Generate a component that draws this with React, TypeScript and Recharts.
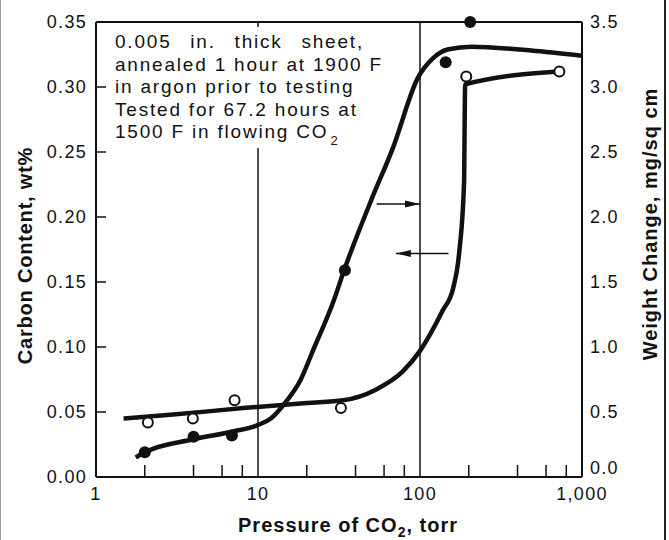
import { ComposedChart, Line, XAxis, YAxis, ReferenceLine, Label } from "recharts"

const FONT = '"Liberation Sans", Arial, Helvetica, sans-serif'
const INK = "#111"

const xMajor = [1, 10, 100, 1000]
const xMinor = [2, 4, 6, 8, 20, 40, 60, 80, 200, 400, 600, 800]
const xTicks = [...xMajor, ...xMinor].sort((a, b) => a - b)
const carbonTicks = [0, 0.05, 0.1, 0.15, 0.2, 0.25, 0.3, 0.35]
const weightTicks = [0, 0.5, 1, 1.5, 2, 2.5, 3, 3.5]

// carbon content curve, wt% (left axis)
const carbonCurve = [
    { x: 1.48, c: 0.045 },
    { x: 3, c: 0.048 },
    { x: 8.1, c: 0.053 },
    { x: 20, c: 0.057 },
    { x: 33.5, c: 0.059 },
    { x: 53, c: 0.067 },
    { x: 78, c: 0.081 },
    { x: 100, c: 0.097 },
    { x: 138, c: 0.128 },
    { x: 160, c: 0.145 },
    { x: 175, c: 0.174 },
    { x: 187, c: 0.226 },
    { x: 190, c: 0.302 },
    { x: 725, c: 0.312 },
]

// measured carbon, open circles
const carbonPoints = [
    { x: 2.09, c: 0.042 },
    { x: 3.96, c: 0.045 },
    { x: 7.17, c: 0.059 },
    { x: 32.5, c: 0.053 },
    { x: 193, c: 0.308 },
    { x: 725, c: 0.312 },
]

// weight change curve, mg/sq cm (right axis)
const weightCurve = [
    { x: 1.76, w: 0.15 },
    { x: 2, w: 0.19 },
    { x: 4, w: 0.29 },
    { x: 7, w: 0.35 },
    { x: 10, w: 0.4 },
    { x: 12, w: 0.45 },
    { x: 14.9, w: 0.58 },
    { x: 18.2, w: 0.74 },
    { x: 21.8, w: 0.97 },
    { x: 29.4, w: 1.36 },
    { x: 34, w: 1.59 },
    { x: 50, w: 2.13 },
    { x: 68, w: 2.53 },
    { x: 97, w: 3.07 },
    { x: 120, w: 3.22 },
    { x: 150, w: 3.29 },
    { x: 208, w: 3.31 },
    { x: 484, w: 3.28 },
    { x: 1000, w: 3.24 },
]

// measured weight change, filled circles
const weightPoints = [
    { x: 2, w: 0.19 },
    { x: 4, w: 0.31 },
    { x: 6.9, w: 0.32 },
    { x: 34.4, w: 1.59 },
    { x: 144, w: 3.19 },
    { x: 204, w: 3.5 },
]

// arrows telling which axis each curve belongs to
const arrows = [
    { from: 54, to: 100, c: 0.21 },
    { from: 150, to: 71, c: 0.172 },
]

const fmtX = (v: number) => (v === 1000 ? "1,000" : String(v))

const XTick = ({ x, y, payload }: any) => {
    const major = xMajor.includes(payload.value)
    if (!major) {
        return <line x1={x} x2={x} y1={y} y2={y - 12} stroke={INK} strokeWidth={1.5} />
    }
    return (
        <text x={x} y={y + 23} textAnchor="middle" fontFamily={FONT} fontSize={18} letterSpacing={1.3} fill={INK}>
            {fmtX(payload.value)}
        </text>
    )
}

const LeftTick = ({ x, y, payload }: any) => (
    <g>
        <line x1={x} x2={x + 10} y1={y} y2={y} stroke={INK} strokeWidth={1.5} />
        <text x={x - 9} y={y} dy="0.36em" textAnchor="end" fontFamily={FONT} fontSize={18} letterSpacing={1.3} fill={INK}>
            {payload.value.toFixed(2)}
        </text>
    </g>
)

// the bottom label on the right sits a little above its tick, clear of "1,000"
const RightTick = ({ x, y, payload }: any) => (
    <text x={x + 8} y={payload.value === 0 ? y - 9 : y} dy="0.36em" textAnchor="start"
        fontFamily={FONT} fontSize={18} letterSpacing={1.3} fill={INK}>
        {payload.value.toFixed(1)}
    </text>
)

const XTitle = ({ viewBox }: any) => (
    <text x={viewBox.x + viewBox.width / 2 + 9} y={viewBox.y + 55} textAnchor="middle"
        fontFamily={FONT} fontSize={20} fontWeight="bold" letterSpacing={1} fill={INK}>
        Pressure of CO<tspan fontSize={14} dy={5}>2</tspan><tspan dy={-5}>, torr</tspan>
    </text>
)

const LeftTitle = ({ viewBox }: any) => {
    const cx = viewBox.x + 25
    const cy = viewBox.y + viewBox.height / 2 + 6
    return (
        <text x={cx} y={cy} transform={`rotate(-90 ${cx} ${cy})`} textAnchor="middle" dy="0.36em"
            fontFamily={FONT} fontSize={20} fontWeight="bold" letterSpacing={0.8} fill={INK}>
            Carbon Content, wt%
        </text>
    )
}

const RightTitle = ({ viewBox }: any) => {
    const cx = viewBox.x + 68
    const cy = viewBox.y + 202
    return (
        <text x={cx} y={cy} transform={`rotate(-90 ${cx} ${cy})`} textAnchor="middle" dy="0.36em"
            fontFamily={FONT} fontSize={20} fontWeight="bold" letterSpacing={1} fill={INK}>
            Weight Change, mg/sq cm
        </text>
    )
}

const filledDot = (p: any) => <circle key={p.key} cx={p.cx} cy={p.cy} r={6} fill={INK} />
const openDot = (p: any) => <circle key={p.key} cx={p.cx} cy={p.cy} r={5} fill="#fff" stroke={INK} strokeWidth={2} />

const arrowHead = (dir: number) => (p: any) => {
    if (p.index !== 1) return <g key={p.key} />
    const { cx, cy } = p
    return <path key={p.key} d={`M${cx},${cy} L${cx - dir * 15},${cy - 3.5} L${cx - dir * 15},${cy + 3.5} Z`} fill={INK} />
}

export default function App() {
    return (
        <div style={{ position: "fixed", left: 0, top: 0, width: 669, height: 540, background: "#fff" }}>
            <ComposedChart width={669} height={540} margin={{ top: 22, right: 0, bottom: 0, left: 0 }}>
                <XAxis dataKey="x" type="number" scale="log" domain={[1, 1000]} ticks={xTicks} interval={0}
                    allowDataOverflow height={63} tickLine={false} tickSize={0} tickMargin={0}
                    axisLine={{ stroke: INK, strokeWidth: 2 }} tick={<XTick />}>
                    <Label content={<XTitle />} />
                </XAxis>
                <YAxis yAxisId="c" domain={[0, 0.35]} ticks={carbonTicks} interval={0} width={96}
                    tickLine={false} tickSize={0} tickMargin={0}
                    axisLine={{ stroke: INK, strokeWidth: 2 }} tick={<LeftTick />}>
                    <Label content={<LeftTitle />} />
                </YAxis>
                <YAxis yAxisId="w" orientation="right" domain={[0, 3.5]} ticks={weightTicks} interval={0} width={87}
                    tickLine={false} tickSize={0} tickMargin={0}
                    axisLine={{ stroke: INK, strokeWidth: 2 }} tick={<RightTick />}>
                    <Label content={<RightTitle />} />
                </YAxis>

                <ReferenceLine yAxisId="c" y={0.35} stroke={INK} strokeWidth={2} />
                <ReferenceLine yAxisId="c" x={10} stroke={INK} strokeWidth={1.5} />
                <ReferenceLine yAxisId="c" x={100} stroke={INK} strokeWidth={1.5} />

                <Line yAxisId="c" data={carbonCurve} dataKey="c" type="monotone" stroke={INK} strokeWidth={4.5}
                    dot={false} activeDot={false} isAnimationActive={false} />
                <Line yAxisId="w" data={weightCurve} dataKey="w" type="monotone" stroke={INK} strokeWidth={4.5}
                    dot={false} activeDot={false} isAnimationActive={false} />

                {arrows.map((a, i) => (
                    <Line key={i} yAxisId="c" data={[{ x: a.from, c: a.c }, { x: a.to, c: a.c }]} dataKey="c"
                        type="linear" stroke={INK} strokeWidth={1.5}
                        dot={arrowHead(Math.sign(a.to - a.from))} activeDot={false} isAnimationActive={false} />
                ))}

                <Line yAxisId="c" data={carbonPoints} dataKey="c" stroke="none" dot={openDot}
                    activeDot={false} isAnimationActive={false} />
                <Line yAxisId="w" data={weightPoints} dataKey="w" stroke="none" dot={filledDot}
                    activeDot={false} isAnimationActive={false} />
            </ComposedChart>

            <div style={{
                position: "absolute", left: 106, top: 27, width: 278, height: 121, background: "#fff",
                boxSizing: "border-box", paddingLeft: 9, paddingTop: 4,
                fontFamily: FONT, fontSize: 19, lineHeight: "22.5px", letterSpacing: 1.8, color: INK,
            }}>
                <div style={{ display: "flex", justifyContent: "space-between", width: 249 }}>
                    <span>0.005</span><span>in.</span><span>thick</span><span>sheet,</span>
                </div>
                <div>annealed 1 hour at 1900 F</div>
                <div>in argon prior to testing</div>
                <div>Tested for 67.2 hours at</div>
                <div>1500 F in flowing CO<span style={{ fontSize: 13, position: "relative", top: 7, marginLeft: 2 }}>2</span></div>
            </div>

            <div style={{ position: "absolute", left: 0, top: 0, width: 1, height: 540, background: "#999" }} />
            <div style={{ position: "absolute", left: 664, top: 0, width: 2, height: 540, background: "#222" }} />
        </div>
    )
}
